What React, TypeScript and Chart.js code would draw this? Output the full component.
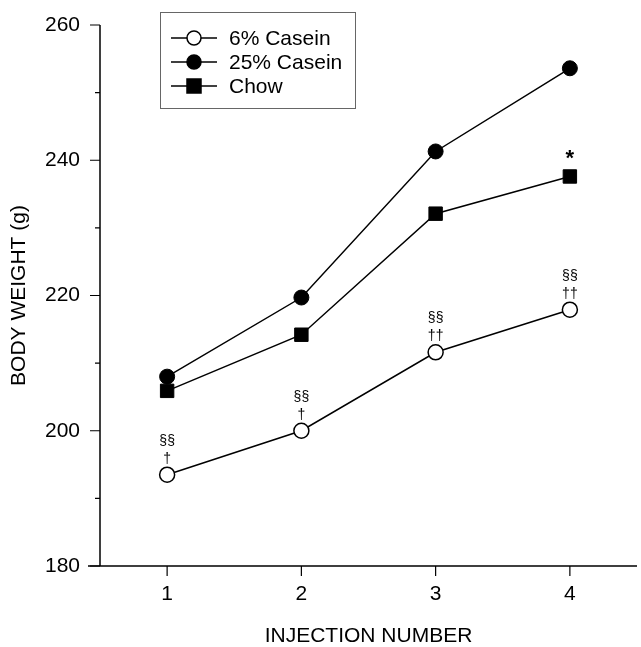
import React, { useEffect, useRef } from "react";
import { Chart, registerables } from "chart.js";

Chart.register(...registerables);

const injections = [1, 2, 3, 4];
const casein6 = [193.5, 200.0, 211.6, 217.9];
const casein25 = [208.0, 219.7, 241.3, 253.6];
const chow = [205.9, 214.2, 232.1, 237.6];
const casein6Marks = [["§§", "†"], ["§§", "†"], ["§§", "††"], ["§§", "††"]];
const chowMarks = ["", "", "", "*"];
const yMajorTicks = [180, 200, 220, 240, 260];
const yMinorTicks = [190, 210, 230, 250];

const FONT = "'Liberation Sans', Arial, Helvetica, sans-serif";

const overlayPlugin = {
  id: "overlay",
  afterDraw(chart: any) {
    const ctx = chart.ctx as CanvasRenderingContext2D;
    const xs = chart.scales.x;
    const ys = chart.scales.y;
    const left = xs.left;
    const bottom = ys.bottom;
    ctx.save();
    ctx.strokeStyle = "#000";
    ctx.lineWidth = 1.5;
    // axes
    ctx.beginPath();
    ctx.moveTo(left - 12, bottom);
    ctx.lineTo(xs.right, bottom);
    ctx.moveTo(left, bottom);
    ctx.lineTo(left, ys.top);
    ctx.stroke();
    ctx.lineWidth = 1.2;
    ctx.beginPath();
    for (const v of yMajorTicks) {
      const p = ys.getPixelForValue(v);
      ctx.moveTo(left - 10, p);
      ctx.lineTo(left, p);
    }
    for (const v of yMinorTicks) {
      const p = ys.getPixelForValue(v);
      ctx.moveTo(left - 5, p);
      ctx.lineTo(left, p);
    }
    for (const v of injections) {
      const p = xs.getPixelForValue(v);
      ctx.moveTo(p, bottom);
      ctx.lineTo(p, bottom + 10);
    }
    ctx.stroke();

    // annotations
    ctx.fillStyle = "#000";
    ctx.textAlign = "center";
    ctx.textBaseline = "middle";
    ctx.font = `14px ${FONT}`;
    casein6Marks.forEach((m, i) => {
      const px = xs.getPixelForValue(injections[i]);
      const py = ys.getPixelForValue(casein6[i]);
      ctx.fillText(m[0], px, py - 34);
      ctx.fillText(m[1], px, py - 16);
    });
    ctx.font = `bold 22px ${FONT}`;
    chowMarks.forEach((m, i) => {
      if (!m) return;
      const px = xs.getPixelForValue(injections[i]);
      const py = ys.getPixelForValue(chow[i]);
      ctx.fillText(m, px, py - 18);
    });

    // legend
    const bx = 160, by = 12, bw = 195, bh = 96;
    ctx.strokeStyle = "#666";
    ctx.lineWidth = 1;
    ctx.strokeRect(bx + 0.5, by + 0.5, bw, bh);
    const entries = [
      { label: "6% Casein", style: "circle", fill: "#fff", y: 38 },
      { label: "25% Casein", style: "circle", fill: "#000", y: 62 },
      { label: "Chow", style: "rect", fill: "#000", y: 86 },
    ];
    ctx.font = `21px ${FONT}`;
    ctx.textAlign = "left";
    for (const e of entries) {
      ctx.strokeStyle = "#000";
      ctx.lineWidth = 1.5;
      ctx.beginPath();
      ctx.moveTo(171, e.y);
      ctx.lineTo(217, e.y);
      ctx.stroke();
      ctx.fillStyle = e.fill;
      ctx.beginPath();
      if (e.style === "circle") {
        ctx.arc(194, e.y, 7, 0, Math.PI * 2);
      } else {
        ctx.rect(187, e.y - 7, 14, 14);
      }
      ctx.fill();
      ctx.stroke();
      ctx.fillStyle = "#000";
      ctx.fillText(e.label, 229, e.y + 1);
    }
    ctx.restore();
  },
};

export default function App() {
  const ref = useRef<HTMLCanvasElement>(null);
  useEffect(() => {
    if (!ref.current) return;
    const mk = (data: number[]) => injections.map((x, i) => ({ x, y: data[i] }));
    const chart = new Chart(ref.current, {
      type: "scatter",
      data: {
        datasets: [
          {
            label: "6% Casein",
            data: mk(casein6),
            showLine: true,
            borderColor: "#000",
            borderWidth: 1.5,
            pointStyle: "circle",
            pointRadius: 7.5,
            pointBackgroundColor: "#fff",
            pointBorderColor: "#000",
            pointBorderWidth: 1.5,
          },
          {
            label: "25% Casein",
            data: mk(casein25),
            showLine: true,
            borderColor: "#000",
            borderWidth: 1.5,
            pointStyle: "circle",
            pointRadius: 7.5,
            pointBackgroundColor: "#000",
            pointBorderColor: "#000",
            pointBorderWidth: 1,
          },
          {
            label: "Chow",
            data: mk(chow),
            showLine: true,
            borderColor: "#000",
            borderWidth: 1.5,
            pointStyle: "rect",
            pointRadius: 9.5,
            pointBackgroundColor: "#000",
            pointBorderColor: "#000",
            pointBorderWidth: 1,
          },
        ],
      },
      options: {
        animation: false,
        responsive: false,
        maintainAspectRatio: false,
        layout: { autoPadding: false, padding: { top: 25, right: 4, left: 0, bottom: 0 } },
        plugins: { legend: { display: false }, tooltip: { enabled: false } },
        scales: {
          x: {
            type: "linear",
            min: 0.5,
            max: 4.5,
            afterFit: (s: any) => { s.height = 81; },
            afterBuildTicks: (s: any) => { s.ticks = injections.map((v) => ({ value: v })); },
            grid: { display: false },
            border: { display: false },
            ticks: {
              color: "#000",
              font: { family: FONT, size: 21 },
              padding: 8,
              callback: (v: any) => String(v),
            },
            title: {
              display: true,
              text: "INJECTION NUMBER",
              color: "#000",
              font: { family: FONT, size: 21, lineHeight: 1 },
              padding: { top: 0, bottom: 0 },
            },
          },
          y: {
            type: "linear",
            min: 180,
            max: 260,
            afterFit: (s: any) => { s.width = 100; },
            afterBuildTicks: (s: any) => { s.ticks = yMajorTicks.map((v) => ({ value: v })); },
            grid: { display: false },
            border: { display: false },
            ticks: {
              color: "#000",
              font: { family: FONT, size: 21 },
              padding: 12,
              callback: (v: any) => String(v),
            },
            title: {
              display: true,
              text: "BODY WEIGHT (g)",
              color: "#000",
              font: { family: FONT, size: 21 },
              padding: { top: 7, bottom: 0 },
            },
          },
        },
      },
      plugins: [overlayPlugin],
    });
    return () => chart.destroy();
  }, []);
  return (
    <div style={{ position: "absolute", left: 0, top: 0, width: 641, height: 647, background: "#fff" }}>
      <canvas ref={ref} width={641} height={647} style={{ display: "block" }} />
    </div>
  );
}
